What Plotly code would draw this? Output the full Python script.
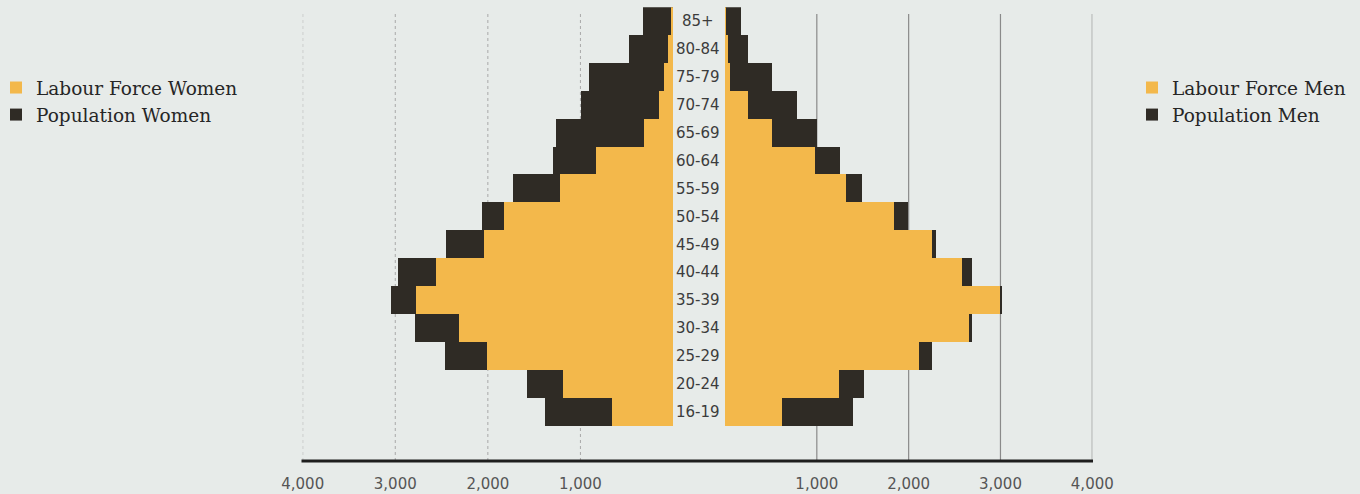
import plotly.graph_objects as go

# ---- data (thousands of persons) ----
age_groups = ["16-19", "20-24", "25-29", "30-34", "35-39", "40-44", "45-49",
              "50-54", "55-59", "60-64", "65-69", "70-74", "75-79", "80-84", "85+"]
pop_women = [1390, 1580, 2470, 2794, 3049, 2977, 2455, 2066, 1735, 1303, 1264, 994, 915, 475, 327]
lf_women = [662, 1191, 2012, 2318, 2779, 2563, 2041, 1832, 1220, 831, 313, 158, 105, 57, 30]
pop_men = [1398, 1518, 2251, 2694, 3014, 2694, 2295, 1997, 1496, 1253, 1006, 788, 508, 247, 171]
lf_men = [617, 1242, 2117, 2661, 2996, 2578, 2251, 1841, 1314, 980, 516, 254, 54, 36, 10]
tick_vals = [1000, 2000, 3000, 4000]
tick_text = ["1,000", "2,000", "3,000", "4,000"]

BG = "#e7ebe9"
ORANGE = "#f3b84b"
DARK = "#2f2b25"

W, H = 1360, 494
def px_x(p):
    return p / W
def px_y(p):
    return (H - p) / H

left_dom = [px_x(302.7), px_x(673)]
right_dom = [px_x(725), px_x(1092.3)]
y_dom = [px_y(461), px_y(7.3)]
y_range = [-1.754, 14.5]

fig = go.Figure()

fig.add_trace(go.Bar(y=age_groups, x=pop_women, orientation="h", name="Population Women",
                     marker=dict(color=DARK, line=dict(width=0)), xaxis="x", yaxis="y",
                     legend="legend", legendrank=2))
fig.add_trace(go.Bar(y=age_groups, x=lf_women, orientation="h", name="Labour Force Women",
                     marker=dict(color=ORANGE, line=dict(width=0)), xaxis="x", yaxis="y",
                     legend="legend", legendrank=1))
fig.add_trace(go.Bar(y=age_groups, x=pop_men, orientation="h", name="Population Men",
                     marker=dict(color=DARK, line=dict(width=0)), xaxis="x2", yaxis="y2",
                     legend="legend2", legendrank=2))
fig.add_trace(go.Bar(y=age_groups, x=lf_men, orientation="h", name="Labour Force Men",
                     marker=dict(color=ORANGE, line=dict(width=0)), xaxis="x2", yaxis="y2",
                     legend="legend2", legendrank=1))

tickfont = dict(family="DejaVu Sans", size=15, color="#555555")
common_x = dict(tickvals=tick_vals, ticktext=tick_text, showgrid=False, zeroline=False,
                showline=False, ticks="", tickfont=tickfont, ticklabelstandoff=12,
                fixedrange=True, automargin=False)
common_y = dict(type="category", categoryorder="array", categoryarray=age_groups,
                range=y_range, domain=y_dom, showticklabels=False, showgrid=False,
                zeroline=False, showline=False, ticks="", automargin=False, fixedrange=True)

shapes = []
grid_top = px_y(14)
grid_bot = px_y(461)
for v in tick_vals:
    shapes.append(dict(type="line", xref="x", yref="paper", x0=v, x1=v, y0=grid_bot, y1=grid_top,
                       line=dict(color="#a8a8a8", width=1, dash="dot"), layer="below"))
    shapes.append(dict(type="line", xref="x2", yref="paper", x0=v, x1=v, y0=grid_bot, y1=grid_top,
                       line=dict(color="#8a8a8a", width=1.2), layer="below"))
shapes.append(dict(type="line", xref="paper", yref="paper", x0=px_x(301.5), x1=px_x(1093),
                   y0=px_y(461), y1=px_y(461), line=dict(color="#1e1e1e", width=3)))

annotations = [dict(text=g, x=px_x(698.5), xref="paper", y=g, yref="y", showarrow=False,
                    xanchor="center", yanchor="middle",
                    font=dict(family="DejaVu Sans", size=15, color="#3c3c3c"))
               for g in age_groups]

legend_font = dict(family="DejaVu Serif", size=18.5, color="#262626")
fig.update_layout(
    width=W, height=H,
    margin=dict(l=0, r=0, t=0, b=0, autoexpand=False),
    paper_bgcolor=BG, plot_bgcolor=BG,
    barmode="overlay", bargap=0,
    xaxis=dict(domain=left_dom, range=[4000, 0], anchor="y", **common_x),
    xaxis2=dict(domain=right_dom, range=[0, 4000], anchor="y2", **common_x),
    yaxis=dict(anchor="x", **common_y),
    yaxis2=dict(anchor="x2", matches="y", **common_y),
    shapes=shapes,
    annotations=annotations,
    legend=dict(x=px_x(-4), y=px_y(69), xanchor="left", yanchor="top", font=legend_font,
                bgcolor="rgba(0,0,0,0)", traceorder="normal", itemclick=False),
    legend2=dict(x=px_x(1132), y=px_y(69), xanchor="left", yanchor="top", font=legend_font,
                 bgcolor="rgba(0,0,0,0)", traceorder="normal", itemclick=False),
    showlegend=True,
)

fig.write_html("out.html", config={"displayModeBar": False},
               post_script="document.body.style.margin='0';")
